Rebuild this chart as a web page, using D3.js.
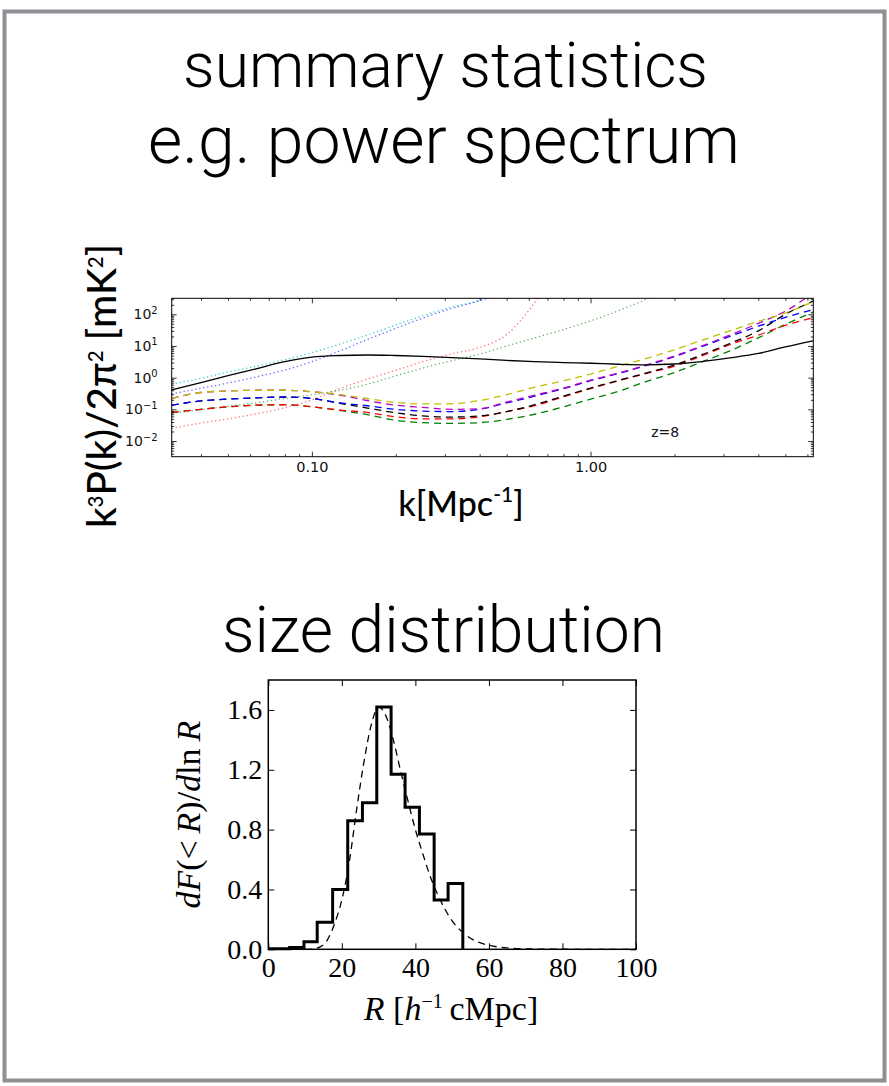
<!DOCTYPE html>
<html><head><meta charset="utf-8">
<script src="https://cdn.jsdelivr.net/npm/d3@7"></script>
<style>body{margin:0;background:#fff}svg{display:block}</style>
</head><body>
<svg id="chart" width="889" height="1086"></svg>
<script>
// ---------------- DATA: power spectrum (top panel) ----------------
const kGrid = [0.0314, 0.04, 0.05, 0.063, 0.08, 0.1, 0.126, 0.158, 0.2, 0.25, 0.316, 0.4, 0.5, 0.63, 0.8, 1.0, 1.26, 1.58, 2.0, 2.5, 3.16, 4.0, 5.0, 6.3];
const solidBlack   = [0.41, 0.70, 1.15, 1.9, 3.2, 4.45, 5.0, 5.2, 5.0, 4.7, 4.3, 3.9, 3.5, 3.2, 3.0, 2.85, 2.65, 2.55, 2.7, 3.2, 4.2, 5.8, 9.3, 14.5];
const dottedCyan   = [0.62, 0.95, 1.5, 2.3, 3.7, 6.1, 11.5, 22, 46, 90, 168, 275, 600, null, null, null, null, null, null, null, null, null, null, null];
const dottedBlue   = [0.31, 0.46, 0.68, 1.05, 1.75, 3.2, 7.0, 16, 36, 76, 150, 270, 550, null, null, null, null, null, null, null, null, null, null, null];
const dottedRed    = [0.025, 0.037, 0.05, 0.072, 0.112, 0.2, 0.45, 0.9, 1.7, 3.2, 5.6, 9.0, 23, 230, 5000, null, null, null, null, null, null, null, null, null];
const dottedGreen  = [0.075, 0.098, 0.125, 0.16, 0.22, 0.29, 0.4, 0.62, 1.15, 2.0, 3.4, 5.5, 10, 18, 33, 62, 130, 300, 1000, null, null, null, null, null];
const dashedYellow = [0.22, 0.34, 0.38, 0.40, 0.40, 0.36, 0.29, 0.22, 0.165, 0.148, 0.15, 0.19, 0.29, 0.5, 0.8, 1.3, 2.3, 4.0, 7.6, 15, 30, 60, 110, 250];
const dashedMagenta= [0.22, 0.34, 0.38, 0.40, 0.40, 0.36, 0.28, 0.19, 0.135, 0.115, 0.1, 0.105, 0.17, 0.28, 0.47, 0.83, 1.4, 2.5, 4.8, 10, 22, 52, 125, 480];
const dashedBlue   = [0.135, 0.185, 0.21, 0.23, 0.245, 0.22, 0.16, 0.13, 0.1, 0.088, 0.085, 0.1, 0.16, 0.26, 0.45, 0.8, 1.35, 2.4, 4.6, 9.5, 20, 42, 80, 140];
const dashedBlack  = [0.135, 0.185, 0.21, 0.23, 0.245, 0.22, 0.155, 0.11, 0.078, 0.062, 0.057, 0.062, 0.085, 0.14, 0.26, 0.47, 0.82, 1.4, 2.5, 5.2, 12, 30, 100, 260];
const dashedRed    = [0.08, 0.1, 0.12, 0.135, 0.14, 0.12, 0.095, 0.08, 0.058, 0.05, 0.05, 0.058, 0.085, 0.13, 0.25, 0.45, 0.8, 1.35, 2.3, 4.8, 11, 22, 45, 78];
const dashedGreen  = [0.08, 0.1, 0.12, 0.135, 0.14, 0.12, 0.092, 0.068, 0.045, 0.038, 0.036, 0.038, 0.048, 0.07, 0.12, 0.21, 0.37, 0.75, 1.45, 3.1, 7, 18, 48, 118];
const kMajorTicks = [0.1, 1.0];
const kMajorLabels = ["0.10", "1.00"];
const pMajorTicks = [0.01, 0.1, 1, 10, 100];
const pExponents = ["-2", "-1", "0", "1", "2"];

// ---------------- DATA: size distribution (bottom panel) ----------------
const histEdges  = [0, 5.8, 9.7, 13.3, 17.5, 21.6, 25.6, 29.5, 33.4, 37.2, 41.1, 45.1, 48.9, 52.9];
const histValues = [0.003, 0.012, 0.05, 0.18, 0.40, 0.86, 0.98, 1.62, 1.17, 0.95, 0.77, 0.33, 0.44];
const fitR      = [10, 12, 14, 16, 18, 20, 22, 24, 26, 28, 30, 32, 34, 36, 38, 40, 42, 44, 46, 48, 50, 53, 56, 60, 65, 70, 80, 90, 100];
const fitValues = [0.0, 0.002, 0.015, 0.06, 0.17, 0.33, 0.58, 0.93, 1.25, 1.50, 1.62, 1.56, 1.40, 1.19, 0.99, 0.80, 0.64, 0.49, 0.37, 0.27, 0.19, 0.11, 0.06, 0.027, 0.009, 0.003, 0.0003, 0, 0];
const rTicks = [0, 20, 40, 60, 80, 100];
const dTicks = [0.0, 0.4, 0.8, 1.2, 1.6];

// ---------------- DRAW ----------------
const svg = d3.select("#chart");
svg.append("rect").attr("x", 4.5).attr("y", 11.5).attr("width", 880).attr("height", 1069)
  .attr("fill", "none").attr("stroke", "#8d9094").attr("stroke-width", 4);

const titleFont = "'Helvetica Neue', Roboto, 'Liberation Sans', Arial, sans-serif";
function title(txt, cx, base, width) {
  const t = svg.append("text").attr("x", cx).attr("y", base).attr("text-anchor", "middle")
    .style("font-family", titleFont).style("font-weight", 300).style("font-size", "60px")
    .attr("fill", "#000").text(txt);
  const w = t.node().getComputedTextLength();
  t.style("font-size", (60 * width / w) + "px");
}
title("summary statistics", 445.5, 87, 525);
title("e.g. power spectrum", 444, 163, 592);
title("size distribution", 443.5, 652, 443);

// ===== top panel =====
const xK = d3.scaleLog().domain([0.0314, 6.3]).range([171.7, 813.3]);
const yP = d3.scaleLog().domain([0.0032, 320]).range([456.7, 298.3]);
const topG = svg.append("g");
topG.append("clipPath").attr("id", "clipTop").append("rect")
  .attr("x", xK.range()[0]).attr("y", yP.range()[1])
  .attr("width", xK.range()[1] - xK.range()[0]).attr("height", yP.range()[0] - yP.range()[1]);

const seriesTop = [
  {v: dottedCyan, c: "#00bfbf", dash: "1.3,2.7", w: 1.3, o: 0.75},
  {v: dottedBlue, c: "#0000ff", dash: "1.3,2.7", w: 1.3, o: 0.6},
  {v: dottedRed, c: "#ff0000", dash: "1.3,2.7", w: 1.3, o: 0.55},
  {v: dottedGreen, c: "#008000", dash: "1.3,2.7", w: 1.3, o: 0.6},
  {v: dashedGreen, c: "#008000", dash: "7,5", w: 1.3, o: 1},
  {v: dashedRed, c: "#ff0000", dash: "7,5", w: 1.3, o: 1},
  {v: dashedBlack, c: "#000000", dash: "7,5", w: 1.3, o: 1},
  {v: dashedBlue, c: "#0000ff", dash: "7,5", w: 1.3, o: 1},
  {v: dashedMagenta, c: "#bf00bf", dash: "7,5", w: 1.3, o: 1},
  {v: dashedYellow, c: "#bfbf00", dash: "7,5", w: 1.3, o: 1},
  {v: solidBlack, c: "#000000", dash: null, w: 1.3, o: 1}
];
const lineTop = d3.line().defined(d => d.v != null)
  .x(d => xK(d.k)).y(d => yP(d.v)).curve(d3.curveMonotoneX);
const gLines = topG.append("g").attr("clip-path", "url(#clipTop)");
seriesTop.forEach(s => {
  const pts = kGrid.map((k, i) => ({k: k, v: s.v[i]}));
  gLines.append("path").datum(pts).attr("d", lineTop).attr("fill", "none")
    .attr("stroke", s.c).attr("stroke-width", s.w).attr("stroke-opacity", s.o)
    .attr("stroke-dasharray", s.dash);
});

// minor ticks
const kMinor = [];
[0.01, 0.1, 1].forEach(d => { for (let m = 2; m <= 9; m++) { const v = d * m; if (v > xK.domain()[0] && v < xK.domain()[1]) kMinor.push(v); } });
const pMinor = [];
[0.001, 0.01, 0.1, 1, 10, 100].forEach(d => { for (let m = 2; m <= 9; m++) { const v = d * m; if (v > yP.domain()[0] && v < yP.domain()[1]) pMinor.push(v); } });

const tickFont = "'DejaVu Sans', sans-serif";
function styleAxis(g) { g.select(".domain").remove(); g.selectAll("line").attr("stroke", "#000").attr("stroke-width", 0.8); }
const yB0 = yP.range()[0], yT0 = yP.range()[1], xL0 = xK.range()[0], xR0 = xK.range()[1];
topG.append("g").attr("transform", `translate(0,${yB0})`)
  .call(d3.axisBottom(xK).tickValues(kMajorTicks).tickSize(-5).tickPadding(5).tickFormat((d, i) => kMajorLabels[i]))
  .call(styleAxis).call(g => g.selectAll("text").style("font-family", tickFont).style("font-size", "14.5px").attr("fill", "#111"));
topG.append("g").attr("transform", `translate(0,${yB0})`)
  .call(d3.axisBottom(xK).tickValues(kMinor).tickSize(-2.5).tickFormat("")).call(styleAxis);
topG.append("g").attr("transform", `translate(0,${yT0})`)
  .call(d3.axisTop(xK).tickValues(kMajorTicks).tickSize(-5).tickFormat("")).call(styleAxis);
topG.append("g").attr("transform", `translate(0,${yT0})`)
  .call(d3.axisTop(xK).tickValues(kMinor).tickSize(-2.5).tickFormat("")).call(styleAxis);
const yAxL = topG.append("g").attr("transform", `translate(${xL0},0)`)
  .call(d3.axisLeft(yP).tickValues(pMajorTicks).tickSize(-5).tickPadding(14).tickFormat(() => ""))
  .call(styleAxis);
yAxL.selectAll(".tick text").each(function(d, i) {
  const t = d3.select(this).style("font-family", tickFont).style("font-size", "14px").attr("fill", "#111");
  t.append("tspan").text("10");
  t.append("tspan").attr("dy", "-5.5").style("font-size", "10px").text(pExponents[i].replace("-", "\u2212"));
});
topG.append("g").attr("transform", `translate(${xL0},0)`)
  .call(d3.axisLeft(yP).tickValues(pMinor).tickSize(-2.5).tickFormat("")).call(styleAxis);
topG.append("g").attr("transform", `translate(${xR0},0)`)
  .call(d3.axisRight(yP).tickValues(pMajorTicks).tickSize(-5).tickFormat("")).call(styleAxis);
topG.append("g").attr("transform", `translate(${xR0},0)`)
  .call(d3.axisRight(yP).tickValues(pMinor).tickSize(-2.5).tickFormat("")).call(styleAxis);
topG.append("rect").attr("x", xL0).attr("y", yT0).attr("width", xR0 - xL0).attr("height", yB0 - yT0)
  .attr("fill", "none").attr("stroke", "#000").attr("stroke-width", 1);
topG.append("text").attr("x", xK(1.65)).attr("y", yP(0.0135)).style("font-family", tickFont)
  .style("font-size", "14px").attr("fill", "#111").text("z=8");

// labels of top panel
const labelFont = "'Gill Sans', Lato, 'Open Sans', sans-serif";
function supLabel(g, parts, size) {
  parts.forEach(p => {
    if (p.sup) g.append("tspan").attr("dy", -size * 0.4).style("font-size", (size * 0.62) + "px").text(p.t);
    else g.append("tspan").attr("dy", p.after ? size * 0.4 : 0).text(p.t);
  });
}
const ylab = svg.append("text").attr("text-anchor", "middle")
  .attr("transform", "translate(116,386) rotate(-90)")
  .style("font-family", labelFont).style("font-weight", 500).style("font-size", "33px").attr("fill", "#000");
supLabel(ylab, [{t: "k"}, {t: "3", sup: true}, {t: "P(k)/2\u03C0", after: true}, {t: "2", sup: true}, {t: " [mK", after: true}, {t: "2", sup: true}, {t: "]", after: true}], 33);
{ const w = ylab.node().getComputedTextLength(); ylab.style("font-size", (33 * 292 / w) + "px"); }
const xlab = svg.append("text").attr("text-anchor", "middle").attr("x", 461).attr("y", 516)
  .style("font-family", labelFont).style("font-weight", 500).style("font-size", "34px").attr("fill", "#000");
supLabel(xlab, [{t: "k[Mpc"}, {t: "-1", sup: true}, {t: "]", after: true}], 34);

// ===== bottom panel =====
const xR = d3.scaleLinear().domain([0, 100]).range([268.3, 636]);
const yD = d3.scaleLinear().domain([0, 1.8]).range([949.3, 680]);
const botG = svg.append("g");
const serif = "'Liberation Serif', 'Times New Roman', serif";
const bx0 = xR.range()[0], bx1 = xR.range()[1], by0 = yD.range()[0], by1 = yD.range()[1];
function styleB(g) { g.select(".domain").remove(); g.selectAll("line").attr("stroke", "#000").attr("stroke-width", 1); }
botG.append("g").attr("transform", `translate(0,${by0})`)
  .call(d3.axisBottom(xR).tickValues(rTicks).tickSize(-6).tickPadding(8).tickFormat(d3.format("d")))
  .call(styleB).call(g => g.selectAll("text").style("font-family", serif).style("font-size", "28px").attr("fill", "#000"));
botG.append("g").attr("transform", `translate(0,${by1})`)
  .call(d3.axisTop(xR).tickValues(rTicks).tickSize(-6).tickFormat("")).call(styleB);
botG.append("g").attr("transform", `translate(${bx0},0)`)
  .call(d3.axisLeft(yD).tickValues(dTicks).tickSize(-6).tickPadding(6).tickFormat(d3.format(".1f")))
  .call(styleB).call(g => g.selectAll("text").style("font-family", serif).style("font-size", "28px").attr("fill", "#000"));
botG.append("g").attr("transform", `translate(${bx1},0)`)
  .call(d3.axisRight(yD).tickValues(dTicks).tickSize(-6).tickFormat("")).call(styleB);

const fitPts = fitR.map((r, i) => ({r: r, v: fitValues[i]}));
botG.append("path").datum(fitPts)
  .attr("d", d3.line().x(d => xR(d.r)).y(d => yD(d.v)).curve(d3.curveMonotoneX))
  .attr("fill", "none").attr("stroke", "#000").attr("stroke-width", 1.3).attr("stroke-dasharray", "7,5");
const histPts = histValues.map((v, i) => ({r: histEdges[i], v: v}));
histPts.push({r: histEdges[histEdges.length - 1], v: 0});
botG.append("path").datum(histPts)
  .attr("d", d3.line().x(d => xR(d.r)).y(d => yD(d.v)).curve(d3.curveStepAfter))
  .attr("fill", "none").attr("stroke", "#000").attr("stroke-width", 3).attr("stroke-linejoin", "miter");
botG.append("rect").attr("x", bx0).attr("y", by1).attr("width", bx1 - bx0).attr("height", by0 - by1)
  .attr("fill", "none").attr("stroke", "#000").attr("stroke-width", 1.5);

// y label bottom
const ylab2 = svg.append("text").attr("text-anchor", "middle")
  .attr("transform", `translate(200,${(by0 + by1) / 2}) rotate(-90)`)
  .style("font-family", serif).style("font-size", "30px").attr("fill", "#000");
[["dF", true], ["(<\u2009", false], ["R", true], [")/", false], ["d", true], ["ln\u2009", false], ["R", true]]
  .forEach(p => ylab2.append("tspan").style("font-style", p[1] ? "italic" : "normal").text(p[0]));
{ const w = ylab2.node().getComputedTextLength(); ylab2.style("font-size", Math.min(34, 30 * 192 / w) + "px"); }
// x label bottom
const xlab2 = svg.append("text").attr("text-anchor", "middle").attr("x", 451).attr("y", 1020)
  .style("font-family", serif).style("font-size", "30px").attr("fill", "#000");
xlab2.append("tspan").style("font-style", "italic").text("R");
xlab2.append("tspan").text(" [");
xlab2.append("tspan").style("font-style", "italic").text("h");
xlab2.append("tspan").attr("dy", -12).style("font-size", "20px").text("\u22121");
xlab2.append("tspan").attr("dy", 12).text("\u2009cMpc]");
{ const w = xlab2.node().getComputedTextLength(); xlab2.style("font-size", Math.min(34, 30 * 178 / w) + "px"); }
</script>
</body></html>
